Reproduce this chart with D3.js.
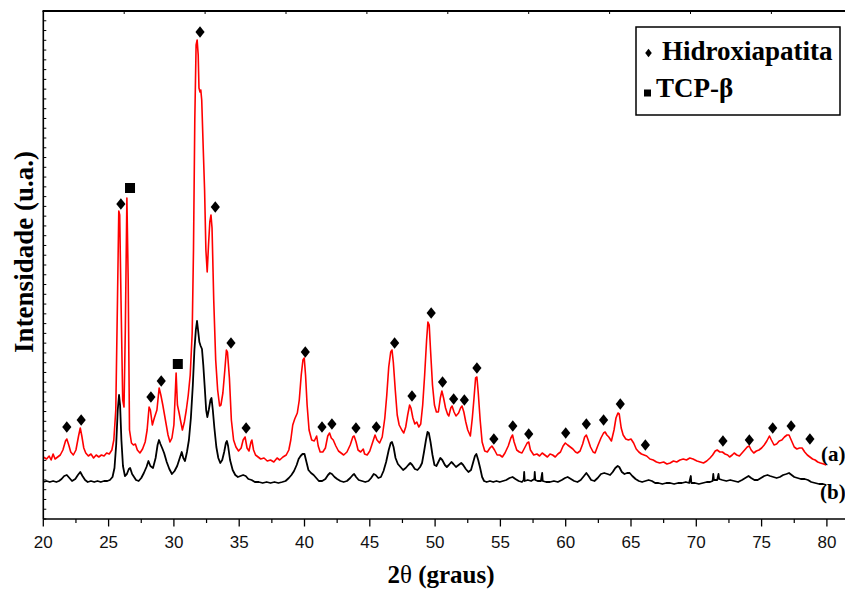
<!DOCTYPE html>
<html>
<head>
<meta charset="utf-8">
<script src="https://cdn.jsdelivr.net/npm/d3@7/dist/d3.min.js"></script>
<style>
  html, body { margin: 0; padding: 0; background: #fff; }
  svg { display: block; }
</style>
</head>
<body>
<svg id="chart" width="845" height="589"></svg>
<script>
// ---- data (2θ in degrees, intensity in arbitrary units) ----
const aTheta = [20.0,20.25,20.45,20.6,20.75,20.9,21.1,21.3,21.5,21.7,21.8,21.95,22.1,22.3,22.5,22.7,22.83,22.95,23.1,23.25,23.45,23.65,23.85,24.05,24.25,24.45,24.65,24.85,25.05,25.25,25.4,25.55,25.68,25.78,25.85,25.95,26.08,26.18,26.28,26.4,26.5,26.6,26.75,26.9,27.05,27.2,27.4,27.6,27.8,27.95,28.1,28.2,28.35,28.5,28.7,28.87,29.0,29.15,29.35,29.55,29.7,29.85,30.0,30.1,30.17,30.27,30.4,30.5,30.65,30.8,30.95,31.1,31.25,31.4,31.5,31.6,31.7,31.78,31.86,31.92,32.0,32.06,32.13,32.25,32.35,32.45,32.55,32.65,32.75,32.84,32.92,33.05,33.2,33.35,33.5,33.6,33.75,33.9,34.02,34.1,34.25,34.4,34.57,34.75,34.95,35.15,35.3,35.45,35.6,35.75,35.9,35.97,36.1,36.25,36.45,36.65,36.9,37.15,37.4,37.65,37.9,38.1,38.35,38.6,38.8,38.95,39.1,39.25,39.45,39.6,39.75,39.88,39.98,40.08,40.2,40.35,40.55,40.75,40.93,41.05,41.2,41.4,41.6,41.78,41.92,42.05,42.2,42.4,42.6,42.8,43.0,43.25,43.5,43.7,43.8,43.95,44.1,44.3,44.5,44.6,44.8,45.0,45.2,45.4,45.55,45.75,45.95,46.15,46.3,46.45,46.6,46.7,46.8,46.95,47.1,47.25,47.45,47.6,47.75,47.9,48.05,48.15,48.3,48.45,48.6,48.75,48.9,49.05,49.2,49.35,49.45,49.55,49.65,49.8,49.95,50.1,50.25,50.4,50.52,50.65,50.8,50.95,51.05,51.2,51.3,51.45,51.6,51.8,51.95,52.06,52.2,52.35,52.5,52.7,52.85,52.98,53.1,53.2,53.3,53.45,53.6,53.8,54.0,54.2,54.35,54.55,54.75,54.95,55.15,55.35,55.6,55.8,55.93,56.05,56.25,56.45,56.65,56.85,57.05,57.17,57.3,57.55,57.8,58.0,58.2,58.4,58.6,58.8,59.0,59.2,59.4,59.6,59.8,59.97,60.15,60.35,60.55,60.75,60.9,61.1,61.3,61.45,61.58,61.72,61.9,62.1,62.25,62.45,62.7,62.9,63.02,63.15,63.3,63.5,63.7,63.85,64.0,64.1,64.25,64.4,64.6,64.8,65.0,65.2,65.4,65.6,65.8,66.0,66.2,66.45,66.7,66.95,67.2,67.5,67.75,68.0,68.25,68.5,68.75,69.0,69.25,69.5,69.75,70.05,70.3,70.55,70.8,71.05,71.25,71.45,71.6,71.8,72.0,72.2,72.4,72.55,72.75,72.9,73.1,73.3,73.5,73.7,73.9,74.05,74.2,74.4,74.6,74.8,75.0,75.2,75.4,75.6,75.75,75.95,76.15,76.35,76.55,76.75,76.95,77.1,77.3,77.5,77.7,77.9,78.1,78.3,78.5,78.7,78.9,79.1,79.3,79.5,79.75,79.95];
const aIntensity = [62,60,63,59,65,60,62,64,69,78,80,74,67,64,69,83,91,83,71,66,63,65,61,64,62,64,63,66,65,69,79,109,219,308,304,219,119,112,189,321,239,89,76,74,75,69,66,70,77,89,112,109,94,101,109,131,124,114,99,84,77,81,94,124,146,114,106,99,89,97,109,124,144,186,269,399,474,479,464,431,427,429,419,369,329,269,247,274,297,304,291,219,159,129,113,114,126,149,169,167,141,99,79,72,68,71,79,82,71,68,77,79,69,64,62,60,61,58,59,57,61,59,62,64,69,79,94,100,106,119,144,159,161,144,114,89,79,78,83,73,67,67,71,83,86,81,79,73,68,66,64,67,74,82,83,77,69,67,70,65,64,68,76,84,79,76,82,101,124,152,167,169,157,129,104,94,89,86,92,104,114,111,101,95,97,92,95,114,144,179,197,194,169,134,114,107,107,121,128,121,111,105,103,111,113,107,103,106,111,113,107,97,89,83,101,121,141,142,127,99,77,68,67,71,73,69,64,64,62,66,73,81,84,77,69,67,66,71,76,77,69,64,65,63,66,64,62,65,64,62,65,67,73,76,74,72,70,67,66,68,75,82,84,79,72,67,66,73,81,86,87,84,82,78,89,101,106,105,91,84,80,79,80,76,70,67,65,64,63,60,59,57,56,57,55,56,58,57,59,60,59,61,60,58,57,56,58,61,64,68,69,67,67,65,64,62,64,66,64,63,66,69,72,73,69,66,68,69,71,74,78,83,79,74,75,78,79,82,84,84,78,72,70,71,71,67,64,62,60,59,57,56,55,54];

const bTheta = [20.0,20.25,20.5,20.75,21.0,21.2,21.4,21.6,21.8,22.0,22.2,22.45,22.65,22.83,23.0,23.2,23.4,23.65,23.9,24.15,24.4,24.65,24.9,25.1,25.3,25.45,25.58,25.7,25.8,25.88,25.98,26.1,26.25,26.4,26.55,26.65,26.8,26.95,27.1,27.3,27.5,27.7,27.9,28.05,28.2,28.4,28.6,28.75,28.86,28.97,29.1,29.25,29.45,29.65,29.85,30.05,30.25,30.45,30.6,30.72,30.85,31.0,31.15,31.3,31.45,31.57,31.68,31.77,31.85,31.95,32.05,32.15,32.25,32.35,32.47,32.56,32.67,32.8,32.88,32.98,33.1,33.25,33.4,33.55,33.7,33.85,33.98,34.06,34.15,34.3,34.5,34.7,34.9,35.1,35.3,35.5,35.7,35.95,36.2,36.5,36.8,37.1,37.4,37.7,38.0,38.3,38.55,38.8,39.0,39.2,39.4,39.55,39.7,39.85,40.0,40.15,40.3,40.5,40.7,40.9,41.1,41.35,41.6,41.8,41.95,42.1,42.3,42.5,42.75,43.0,43.25,43.5,43.7,43.8,43.95,44.15,44.4,44.65,44.9,45.1,45.3,45.45,45.65,45.85,46.05,46.25,46.45,46.6,46.7,46.82,46.97,47.15,47.35,47.55,47.75,47.95,48.1,48.25,48.45,48.65,48.85,49.0,49.15,49.3,49.42,49.52,49.65,49.8,49.95,50.1,50.25,50.4,50.55,50.75,50.9,51.05,51.25,51.4,51.6,51.8,52.0,52.15,52.35,52.55,52.75,52.9,53.05,53.16,53.3,53.45,53.6,53.75,53.95,54.2,54.45,54.7,54.95,55.2,55.45,55.7,55.93,56.15,56.4,56.65,56.78,56.82,56.86,57.1,57.35,57.6,57.63,57.67,57.85,58.1,58.2,58.24,58.5,58.8,59.1,59.4,59.7,59.95,60.15,60.4,60.65,60.9,61.15,61.4,61.58,61.75,61.95,62.2,62.45,62.7,62.95,63.2,63.4,63.6,63.8,63.98,64.1,64.3,64.5,64.7,64.9,65.1,65.35,65.6,65.85,66.1,66.35,66.6,66.85,67.1,67.4,67.7,68.0,68.3,68.6,68.9,69.2,69.45,69.58,69.62,69.9,70.2,70.5,70.8,71.05,71.25,71.3,71.35,71.6,71.7,71.75,72.0,72.3,72.6,72.9,73.2,73.5,73.75,74.0,74.2,74.45,74.7,74.95,75.2,75.45,75.65,75.9,76.15,76.4,76.65,76.9,77.1,77.3,77.5,77.75,78.0,78.3,78.55,78.8,79.1,79.4,79.7,79.95];
const bIntensity = [37,38,37,38,37,38,40,43,44,41,38,40,44,47,43,39,37,38,37,38,37,38,38,39,42,51,74,109,124,114,79,53,43,45,50,51,45,42,39,38,41,46,52,58,53,51,61,74,79,75,71,66,57,50,45,48,53,61,67,61,58,67,79,101,134,169,189,198,189,177,173,170,154,134,109,102,109,119,121,109,91,72,61,56,59,67,76,78,73,59,49,44,42,43,44,43,40,39,37,37,36,37,36,37,36,37,38,41,44,48,54,60,63,65,65,57,49,46,44,41,38,38,40,44,46,45,42,40,38,37,38,41,44,45,42,39,38,37,38,41,45,44,41,42,48,57,69,76,77,72,61,55,52,49,51,54,56,54,50,49,52,56,67,79,87,86,77,64,54,53,57,61,59,54,52,54,57,55,52,54,56,54,50,47,49,56,63,65,59,51,42,38,37,38,37,38,37,38,39,41,42,40,38,37,39,47,38,39,38,40,47,39,38,38,46,38,37,37,38,37,39,41,42,40,38,37,39,43,46,43,39,38,41,45,46,45,44,47,51,53,52,47,45,46,46,43,40,38,37,38,39,38,36,36,35,36,36,35,36,36,37,36,43,36,36,35,36,37,37,38,45,39,39,45,40,39,38,39,38,37,39,41,43,41,39,39,41,43,44,43,42,41,42,44,45,46,44,42,41,40,40,39,37,36,35,35,34];

// phase markers: [2θ, marker height]
const hapTheta  = [21.8,22.9,25.94,28.24,29.03,32.0,33.17,34.37,35.53,40.06,41.34,42.1,43.94,45.5,46.9,48.23,49.7,50.57,51.42,52.24,53.2,54.5,55.95,57.17,60.0,61.58,62.9,64.18,66.1,72.04,74.06,75.85,77.26,78.7];
const hapHeight = [92,99,315,122,138,487,312,176,91,167,92,95,91,92,176,123,206,137,120,119,151,80,93,85,86,95,99,115,74,78,79,91,93,80];
const tcpTheta  = [26.64,30.3];
const tcpHeight = [331,155];

const xTicks = [20,25,30,35,40,45,50,55,60,65,70,75,80];
const seriesLabels = ["(a)", "(b)"];
const legendLabels = ["Hidroxiapatita", "TCP-β"];

// ---- drawing ----
const svg = d3.select("#chart");
const W = 845;
const leftX = 43.3, topY = 11, bottomY = 519;

const x = d3.scaleLinear().domain([20, 80]).range([leftX, 826.9]);
const y = d3.scaleLinear().domain([0, 508]).range([bottomY, topY]);

const serif = "'Liberation Serif','Times New Roman',serif";
const sans = "'Liberation Sans',Arial,Helvetica,sans-serif";

// curves
const line = d3.line().x(d => x(d[0])).y(d => y(d[1]));
svg.append("path")
  .datum(d3.zip(aTheta, aIntensity))
  .attr("d", line).attr("fill", "none")
  .attr("stroke", "#ff0000").attr("stroke-width", 1.6).attr("stroke-linejoin", "round");
svg.append("path")
  .datum(d3.zip(bTheta, bIntensity))
  .attr("d", line).attr("fill", "none")
  .attr("stroke", "#000").attr("stroke-width", 1.8).attr("stroke-linejoin", "round");

// markers
const diamond = (cx, cy, w, h) => `M${cx},${cy - h}L${cx + w},${cy}L${cx},${cy + h}L${cx - w},${cy}Z`;
svg.append("g").selectAll("path").data(d3.zip(hapTheta, hapHeight))
  .join("path")
  .attr("d", d => diamond(x(d[0]), y(d[1]), 4.6, 5.8))
  .attr("fill", "#000");
svg.append("g").selectAll("rect").data(d3.zip(tcpTheta, tcpHeight))
  .join("rect")
  .attr("x", d => x(d[0]) - 5).attr("y", d => y(d[1]) - 5)
  .attr("width", 10).attr("height", 10).attr("fill", "#000");

// bottom axis
const gx = svg.append("g").attr("transform", `translate(0,${bottomY})`);
gx.append("line").attr("x1", leftX).attr("x2", W).attr("y1", 0).attr("y2", 0)
  .attr("stroke", "#000").attr("stroke-width", 1.6);
const minorX = d3.range(22.5, 81, 5);
gx.selectAll("line.maj").data(xTicks).join("line").attr("class", "maj")
  .attr("x1", d => x(d)).attr("x2", d => x(d)).attr("y1", 0).attr("y2", 7.5)
  .attr("stroke", "#000").attr("stroke-width", 1.3);
gx.selectAll("line.min").data(minorX).join("line").attr("class", "min")
  .attr("x1", d => x(d)).attr("x2", d => x(d)).attr("y1", 0).attr("y2", 4)
  .attr("stroke", "#000").attr("stroke-width", 1.2);
gx.selectAll("text").data(xTicks).join("text")
  .attr("x", d => x(d)).attr("y", 29).attr("text-anchor", "middle")
  .attr("font-family", sans).attr("font-size", 17).attr("fill", "#111")
  .text(d => d);

// left axis
svg.append("line").attr("x1", leftX).attr("x2", leftX).attr("y1", topY).attr("y2", bottomY)
  .attr("stroke", "#000").attr("stroke-width", 1.6);
const yTicks = d3.range(0, 52).map(i => i * 508 / 52);
svg.append("g").selectAll("line").data(yTicks).join("line")
  .attr("x1", leftX).attr("x2", leftX + 3)
  .attr("y1", d => y(d)).attr("y2", d => y(d))
  .attr("stroke", "#000").attr("stroke-width", 1);

// top axis
svg.append("line").attr("x1", leftX - 0.8).attr("x2", W).attr("y1", topY).attr("y2", topY)
  .attr("stroke", "#000").attr("stroke-width", 2);
const topScale = d3.scaleLinear().domain([0, 10]).range([leftX, leftX + 809]);
svg.append("g").selectAll("line").data(d3.range(1, 10)).join("line")
  .attr("x1", d => topScale(d)).attr("x2", d => topScale(d))
  .attr("y1", topY).attr("y2", topY + 3)
  .attr("stroke", "#000").attr("stroke-width", 1);

// axis titles
const xt = svg.append("text").attr("x", 441).attr("y", 583).attr("text-anchor", "middle")
  .attr("font-family", serif).attr("font-weight", "bold").attr("font-size", 25).attr("fill", "#000");
xt.append("tspan").text("2");
xt.append("tspan").attr("font-weight", "normal").text("θ");
xt.append("tspan").text(" (graus)");

svg.append("text")
  .attr("transform", "translate(33,252) rotate(-90)")
  .attr("text-anchor", "middle")
  .attr("font-family", serif).attr("font-weight", "bold").attr("font-size", 27).attr("fill", "#000")
  .text("Intensidade (u.a.)");

// series labels
svg.append("text").attr("x", 821).attr("y", 461)
  .attr("font-family", serif).attr("font-weight", "bold").attr("font-size", 21).text(seriesLabels[0]);
svg.append("text").attr("x", 820).attr("y", 499)
  .attr("font-family", serif).attr("font-weight", "bold").attr("font-size", 21).text(seriesLabels[1]);

// legend
const lg = svg.append("g");
lg.append("rect").attr("x", 636).attr("y", 27).attr("width", 204).attr("height", 88)
  .attr("fill", "#fff").attr("stroke", "#000").attr("stroke-width", 1.5);
lg.append("path").attr("d", diamond(648.5, 53, 3.3, 4.3)).attr("fill", "#000");
lg.append("rect").attr("x", 644).attr("y", 89.5).attr("width", 7).attr("height", 7).attr("fill", "#000");
lg.append("text").attr("x", 662).attr("y", 60)
  .attr("font-family", serif).attr("font-weight", "bold").attr("font-size", 27).text(legendLabels[0]);
lg.append("text").attr("x", 656).attr("y", 97)
  .attr("font-family", serif).attr("font-weight", "bold").attr("font-size", 27).text(legendLabels[1]);
</script>
</body>
</html>
